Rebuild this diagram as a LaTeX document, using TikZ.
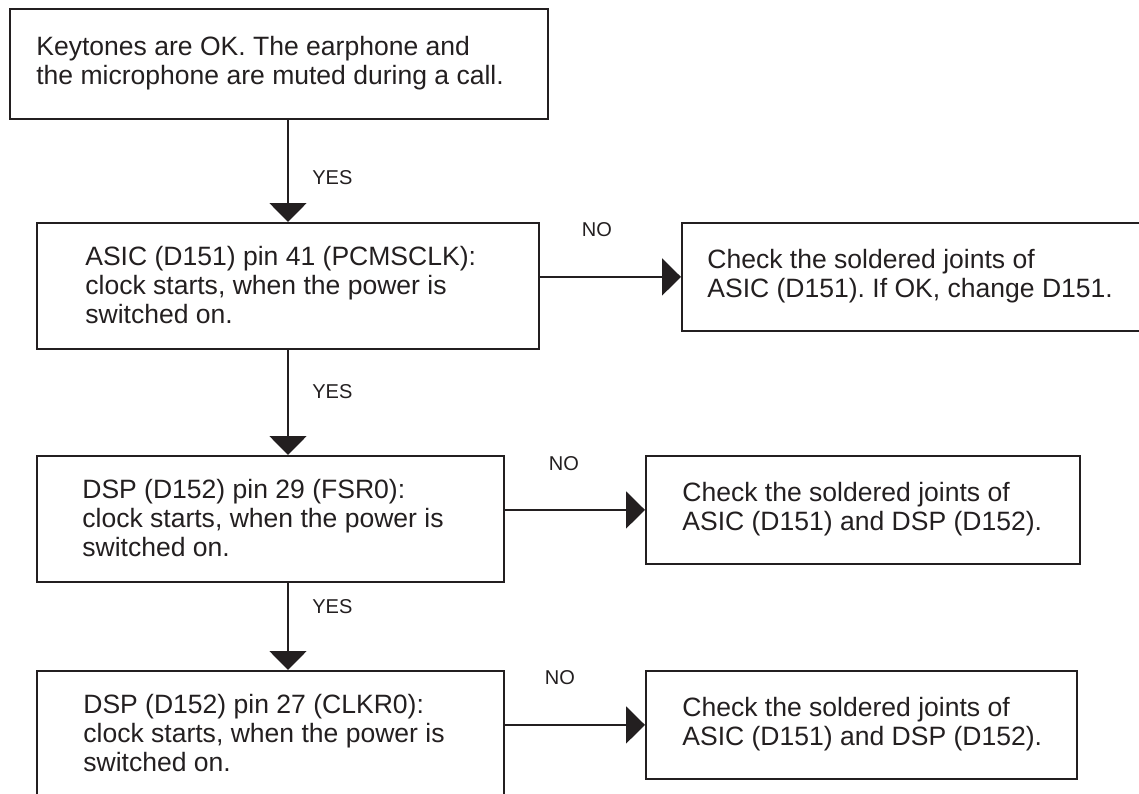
\documentclass[tikz,border=0pt]{standalone}
\usepackage{fontspec}
\setmainfont{Liberation Sans}
\usetikzlibrary{arrows.meta}
\definecolor{ink}{HTML}{231F20}
\frenchspacing
\tikzset{
  box/.style={draw=ink, line width=1.1pt, inner sep=0pt, anchor=north west},
  boxtext/.style={anchor=west, align=left, inner sep=0pt, text=ink,
    font=\fontsize{15.1pt}{16.5pt}\selectfont},
  answer/.style={inner sep=0pt, text=ink, font=\fontsize{11.4pt}{13pt}\selectfont},
  flow/.style={draw=ink, line width=1.1pt, -{Triangle[width=0.74cm,length=0.38cm]}},
}
\begin{document}
\begin{tikzpicture}[x=0.02cm, y=-0.02cm]
    \useasboundingbox (0,0) rectangle (1139,794);

    % left column
    \node[box, minimum width=10.76cm, minimum height=2.2cm] (start) at (9,8) {};
    \node[box, minimum width=10.04cm, minimum height=2.52cm] (asic) at (36,222) {};
    \node[box, minimum width=9.34cm, minimum height=2.52cm] (fsr) at (36,455) {};
    \node[box, minimum width=9.34cm, minimum height=2.52cm] (clkr) at (36,670) {};

    % right column
    \node[box, minimum width=9.28cm, minimum height=2.16cm] (fixasic) at (681,222) {};
    \node[box, minimum width=8.68cm, minimum height=2.16cm] (fixfsr) at (645,455) {};
    \node[box, minimum width=8.62cm, minimum height=2.16cm] (fixclkr) at (645,670) {};

    % texts
    \node[boxtext] (start text) at (36,63) {Keytones are OK. The earphone and\\the microphone are muted during a call.};
    \node[boxtext] (asic text) at (85,285) {ASIC (D151) pin 41 (PCMSCLK):\\clock starts, when the power is\\switched on.};
    \node[boxtext] (fsr text) at (82,518) {DSP (D152) pin 29 (FSR0):\\clock starts, when the power is\\switched on.};
    \node[boxtext] (clkr text) at (83,733) {DSP (D152) pin 27 (CLKR0):\\clock starts, when the power is\\switched on.};
    \node[boxtext] (fixasic text) at (707,276) {Check the soldered joints of\\ASIC (D151). If OK, change D151.};
    \node[boxtext] (fixfsr text) at (682,509) {Check the soldered joints of\\ASIC (D151) and DSP (D152).};
    \node[boxtext] (fixclkr text) at (682,724) {Check the soldered joints of\\ASIC (D151) and DSP (D152).};

    % YES path
    \coordinate (spine) at (288,0);
    \draw[flow] (start.south -| spine) -- (asic.north -| spine);
    \draw[flow] (asic.south -| spine) -- (fsr.north -| spine);
    \draw[flow] (fsr.south -| spine) -- (clkr.north -| spine);
    \node[answer, anchor=west] (yes1) at (312,178) {YES};
    \node[answer, anchor=west] (yes2) at (312,392) {YES};
    \node[answer, anchor=west] (yes3) at (312,607) {YES};

    % NO path
    \draw[flow] (asic.east |- fixasic.west) -- (fixasic.west);
    \draw[flow] (fsr.east |- fixfsr.west) -- (fixfsr.west);
    \draw[flow] (clkr.east |- fixclkr.west) -- (fixclkr.west);
    \node[answer] (no1) at (597,230) {NO};
    \node[answer] (no2) at (564,464) {NO};
    \node[answer] (no3) at (560,678) {NO};
\end{tikzpicture}
\end{document}
